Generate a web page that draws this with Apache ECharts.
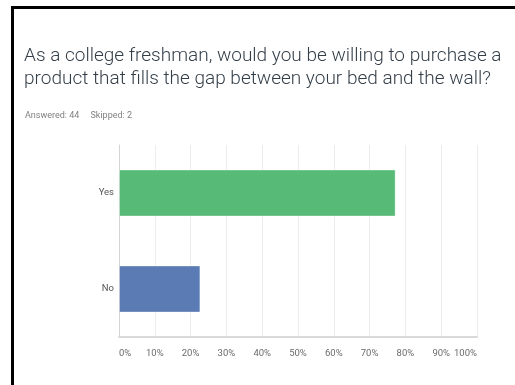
<!DOCTYPE html>
<html>
<head>
<meta charset="utf-8">
<script src="https://cdn.jsdelivr.net/npm/echarts@6/dist/echarts.min.js"></script>
<style>
  html, body { margin: 0; padding: 0; background: #fff; }
  #chart { width: 515px; height: 385px; }
</style>
</head>
<body>
<div id="chart"></div>
<script>
// Survey question and response summary
const questionLines = [
  'As a college freshman, would you be willing to purchase a',
  'product that fills the gap between your bed and the wall?'
];
const answeredCount = 44;
const skippedCount = 2;

// Answer choices (top to bottom) and share of respondents, in percent
const categories = ['Yes', 'No'];
const percents = [77.27, 22.73];
const barColors = ['#57bb77', '#5a7bb3'];

// X-axis ticks (percent)
const tickValues = [0, 10, 20, 30, 40, 50, 60, 70, 80, 90, 100];

const chart = echarts.init(document.getElementById('chart'), null, { renderer: 'canvas' });

chart.setOption({
  backgroundColor: '#ffffff',
  animation: false,
  title: [
    {
      text: questionLines.join('\n'),
      left: 24,
      top: 45,
      padding: 0,
      textStyle: {
        fontFamily: 'Roboto, sans-serif',
        fontWeight: 300,
        fontSize: 19,
        lineHeight: 23,
        color: '#333e48'
      }
    },
    {
      text: 'Answered: ' + answeredCount + '     Skipped: ' + skippedCount,
      left: 25,
      top: 110,
      padding: 0,
      textStyle: {
        fontFamily: 'Roboto, sans-serif',
        fontWeight: 'normal',
        fontSize: 9,
        lineHeight: 12,
        color: '#808080'
      }
    }
  ],
  graphic: [
    // frame lines along the top and left edges
    { type: 'rect', shape: { x: 11, y: 6, width: 504, height: 3 }, style: { fill: '#000' }, silent: true },
    { type: 'rect', shape: { x: 11, y: 6, width: 3, height: 379 }, style: { fill: '#000' }, silent: true }
  ],
  grid: { left: 119, right: 38, top: 145, bottom: 48, containLabel: false },
  xAxis: {
    type: 'value',
    min: 0,
    max: 100,
    interval: 10,
    axisLine: { show: true, lineStyle: { color: '#d9d9d9', width: 2 } },
    axisTick: { show: false },
    splitLine: { show: true, lineStyle: { color: '#ececec', width: 1 } },
    axisLabel: {
      margin: 12,
      fontFamily: 'Roboto, sans-serif',
      fontSize: 9.5,
      color: '#6b6b6b',
      alignMinLabel: 'left',
      alignMaxLabel: 'right',
      customValues: tickValues,
      formatter: v => v + '%'
    }
  },
  yAxis: {
    type: 'category',
    inverse: true,
    data: categories,
    axisLine: { show: true, lineStyle: { color: '#d4d4d4', width: 1 } },
    axisTick: { show: false },
    axisLabel: {
      margin: 5,
      fontFamily: 'Roboto, sans-serif',
      fontSize: 9.5,
      color: '#555'
    }
  },
  series: [{
    type: 'bar',
    barWidth: 47,
    data: percents.map((v, i) => ({ value: v, itemStyle: { color: barColors[i] } })),
    itemStyle: { borderColor: 'rgba(255,255,255,0.35)', borderWidth: 1 },
    label: { show: false }
  }]
});
</script>
</body>
</html>
